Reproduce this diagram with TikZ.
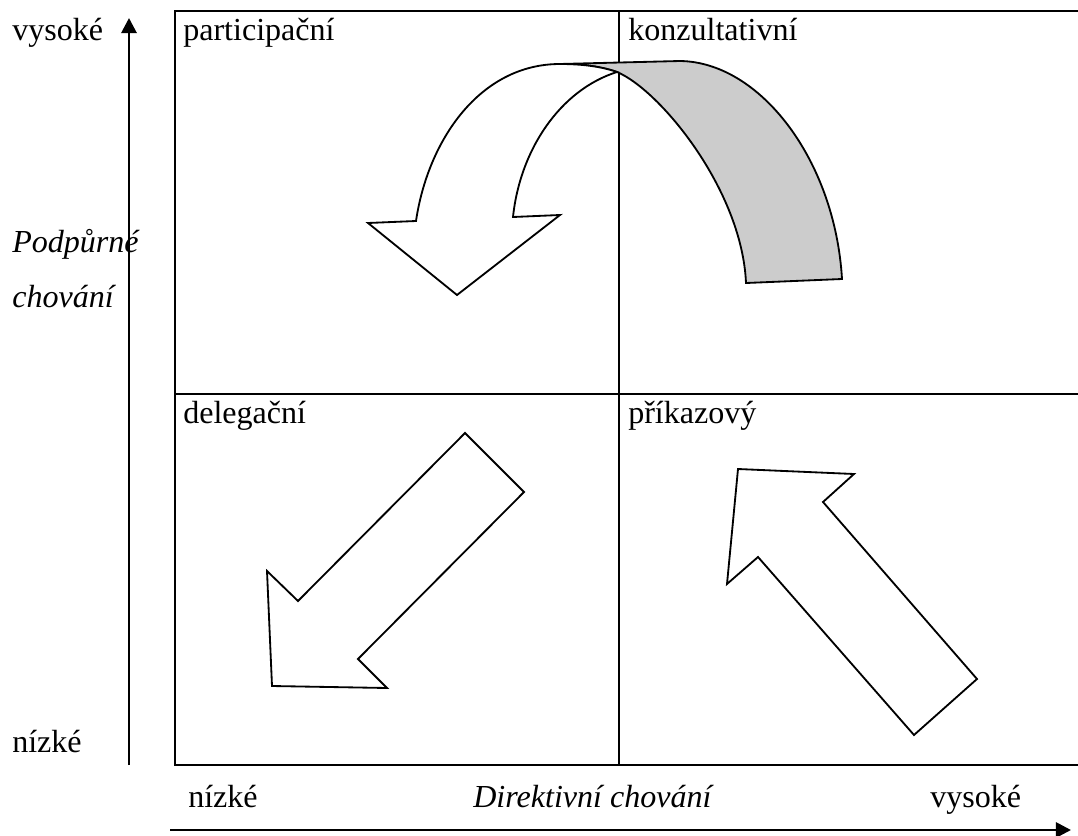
\documentclass[tikz,border=0pt]{standalone}
\usepackage{fontspec}
\setmainfont{Liberation Serif}
\usetikzlibrary{arrows.meta}
\begin{document}
\begin{tikzpicture}[x=0.025cm,y=-0.025cm,
  lbl/.style={inner sep=0pt,anchor=base west,font=\fontsize{22.8pt}{27pt}\selectfont},
  ilbl/.style={lbl,font=\fontsize{22.8pt}{27pt}\selectfont\itshape},
  frame/.style={line width=1.4pt},
  axis/.style={line width=2pt,-{Triangle[length=0.38cm,width=0.38cm]}},
  arrowbody/.style={draw,line width=1.3pt,line join=miter,fill=white},
  band/.style={draw,line width=1.3pt,fill=black!20}]
\useasboundingbox (0,0) rectangle (1078,835);
\clip (0,0) rectangle (1078,835);

% quadrant frame
\coordinate (tl) at (175,11);
\coordinate (tr) at (1080,11);
\coordinate (bl) at (175,765);
\coordinate (br) at (1080,765);
\coordinate (mt) at (619,11);
\coordinate (mb) at (619,765);
\coordinate (ml) at (175,394);
\coordinate (mr) at (1080,394);
\draw[frame] (tr) -- (tl) -- (bl) -- (br);
\draw[frame] (mt) -- (mb);
\draw[frame] (ml) -- (mr);

% axes
\coordinate (ys) at (129,765);
\coordinate (ye) at (129,18);
\coordinate (xs) at (170,830);
\coordinate (xe) at (1071,830);
\draw[axis] (ys) -- (ye);
\draw[axis] (xs) -- (xe);

% quadrant names
\node[lbl] (q1) at (183,40) {participační};
\node[lbl] (q2) at (628,40) {konzultativní};
\node[lbl] (q3) at (183,423) {delegační};
\node[lbl] (q4) at (628,423) {příkazový};

% axis labels
\node[lbl] (yhi) at (12,40) {vysoké};
\node[lbl] (ylo) at (12,752) {nízké};
\node[ilbl] (yt1) at (12,252) {Podpůrné};
\node[ilbl] (yt2) at (12,307) {chování};
\node[lbl] (xlo) at (188,807) {nízké};
\node[ilbl] (xt) at (473,807) {Direktivní chování};
\node[lbl] (xhi) at (930,807) {vysoké};

% curved arrow: grey underside of the band
\path[band] (560,64) -- (680,61)
  .. controls (760,62) and (835,160) .. (842,279)
  -- (746,283)
  .. controls (742,190) and (660,90) .. (617,72)
  .. controls (600,66) and (580,64) .. (560,64) -- cycle;

% curved arrow: white front with head
\path[arrowbody] (560,64)
  .. controls (480,64) and (428,140) .. (416,221)
  -- (368,223) -- (457,295) -- (560,215) -- (513,217)
  .. controls (520,150) and (560,90) .. (617,72)
  .. controls (600,66) and (580,64) .. (560,64) -- cycle;

% straight arrow in the lower left quadrant
\path[arrowbody] (465,433) -- (524,492) -- (358,659) -- (387,688)
  -- (272,686) -- (267,571) -- (298,601) -- cycle;

% straight arrow in the lower right quadrant
\path[arrowbody] (738,469) -- (854,474) -- (823,502) -- (977,679)
  -- (914,735) -- (758,557) -- (727,584) -- cycle;
\end{tikzpicture}
\end{document}
